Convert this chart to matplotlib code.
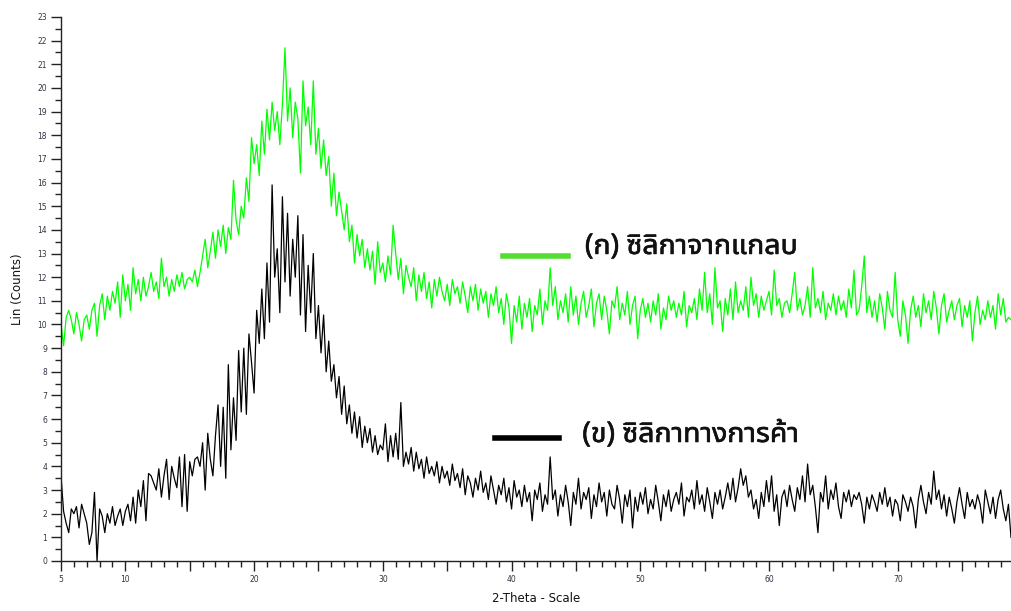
import numpy as np
import matplotlib
matplotlib.use("Agg")
import matplotlib.pyplot as plt
from matplotlib import font_manager
import matplotlib.patheffects as pe

# ---------------- data (0.2 deg step) ----------------
x_start = 5.0
x_step = 0.2

husk_counts = [
    10.0, 9.1, 10.3, 10.6, 10.2,  9.6, 10.5, 10.0, 9.3, 10.2,
    10.4, 9.8, 10.6, 10.9, 9.5,  10.8, 11.3, 10.2, 11.2, 10.6,
    11.4, 10.9, 11.8, 10.3, 12.1,  11.0, 11.7, 10.6, 12.4, 11.3,
    11.9, 11.0, 12.0, 11.2, 11.6,  12.2, 11.4, 11.8, 11.1, 12.8,
    11.6, 12.0, 11.2, 11.9, 11.4,  12.1, 11.6, 12.2, 11.5, 11.9,
    12.0, 11.8, 12.3, 11.6, 12.2,  12.9, 13.6, 12.4, 13.1, 13.9,
    12.8, 14.0, 13.3, 14.2, 13.0,  14.1, 13.6, 16.1, 14.4, 13.8,
    15.0, 14.5, 16.2, 15.2, 17.9,  16.8, 17.6, 16.3, 18.6, 17.2,
    19.1, 17.8, 19.4, 18.2, 19.0,  17.6, 19.3, 21.7, 18.6, 20.0,
    17.9, 19.4, 18.7, 16.4, 20.3,  18.4, 19.2, 17.6, 20.3, 17.2,
    18.3, 16.6, 17.8, 16.3, 17.1,  15.0, 16.4, 14.6, 15.6, 14.8,
    14.0, 15.1, 13.5, 14.2, 12.6,  13.8, 12.9, 13.6, 12.4, 13.2,
    12.3, 13.1, 11.7, 13.5, 12.2,  12.6, 11.8, 12.9, 12.1, 14.2,
    13.0, 11.9, 12.8, 11.3, 12.5,  12.0, 11.6, 12.4, 11.0, 12.1,
    11.4, 12.2, 11.1, 11.8, 10.7,  11.9, 11.2, 12.0, 11.4, 11.0,
    11.7, 10.8, 11.9, 11.3, 11.6,  10.9, 11.8, 11.2, 10.5, 11.6,
    11.0, 11.7, 10.6, 11.5, 10.9,  11.4, 10.3, 11.3, 10.8, 11.6,
    10.5, 11.1, 10.0, 11.3, 10.7,  9.2, 10.8, 10.1, 11.2, 9.8,
    10.9, 10.3, 11.1, 9.7, 10.8,  10.4, 11.5, 10.0, 11.0, 10.6,
    12.4, 10.8, 11.6, 10.2, 11.0,  10.5, 11.3, 10.1, 11.6, 10.4,
    11.2, 10.0, 10.9, 11.4, 10.3,  10.8, 11.5, 9.9, 10.9, 11.3,
    10.2, 11.2, 10.6, 9.6, 11.0,  10.7, 11.6, 10.2, 10.9, 10.4,
    11.4, 10.0, 10.8, 11.2, 9.4,  10.6, 11.1, 10.3, 10.9, 10.1,
    11.0, 10.4, 11.3, 9.8, 10.7,  10.2, 11.2, 10.6, 11.0, 10.3,
    10.9, 10.4, 11.4, 9.9, 10.8,  10.5, 11.1, 10.2, 11.5, 10.6,
    12.2, 10.5, 11.3, 10.0, 12.4,  10.7, 11.0, 9.7, 11.1, 10.4,
    11.5, 10.2, 11.8, 10.5, 11.0,  10.6, 11.6, 10.3, 12.0, 10.8,
    11.3, 10.3, 11.2, 10.6, 11.0,  11.4, 10.4, 12.3, 10.8, 11.1,
    10.3, 10.9, 11.0, 10.5, 11.3,  12.2, 10.6, 11.1, 10.4, 10.8,
    11.6, 10.3, 12.4, 10.7, 11.1,  10.5, 11.4, 10.2, 10.9, 10.6,
    11.3, 10.4, 11.2, 10.6, 11.0,  10.3, 11.5, 10.7, 12.3, 10.4,
    10.6, 11.6, 12.9, 10.5, 11.2,  10.3, 11.0, 10.1, 11.3, 10.7,
    9.8, 11.4, 10.6, 10.3, 12.2,  10.2, 9.5, 11.0, 10.4, 9.2,
    10.6, 11.2, 10.3, 10.8, 9.9,  11.3, 10.5, 11.0, 10.2, 11.4,
    10.7, 9.6, 10.8, 11.3, 10.1,  10.6, 11.0, 10.2, 10.8, 11.1,
    9.9, 10.8, 10.3, 11.0, 9.3,  10.5, 11.2, 10.0, 10.6, 10.2,
    11.0, 10.3, 10.8, 9.8, 11.3,  10.4, 11.1, 10.1, 10.3, 10.2,
]

commercial_counts = [
    3.6, 2.1, 1.6, 1.2, 2.2,  2.0, 2.3, 1.4, 2.4, 2.0,
    1.6, 0.7, 1.2, 2.9, 0.0,  2.2, 1.9, 1.2, 2.0, 1.6,
    2.3, 1.5, 1.9, 2.2, 1.5,  2.1, 2.4, 1.7, 2.7, 1.6,
    3.0, 2.3, 3.4, 1.7, 3.7,  3.6, 3.3, 3.0, 3.9, 2.7,
    3.6, 4.3, 2.6, 4.0, 3.5,  3.1, 4.4, 2.3, 4.5, 2.1,
    4.2, 3.6, 4.3, 4.4, 4.0,  5.0, 3.0, 5.4, 4.3, 3.6,
    5.3, 6.6, 4.0, 6.5, 3.5,  8.3, 4.7, 6.9, 5.1, 8.9,
    6.3, 9.0, 6.2, 9.6, 8.4,  7.1, 10.6, 9.2, 11.5, 9.4,
    12.6, 10.1, 15.9, 12.0, 13.2,  10.5, 15.4, 11.8, 14.7, 11.2,
    13.6, 12.0, 14.6, 10.4, 13.8,  9.7, 12.5, 10.5, 13.0, 9.4,
    10.8, 8.8, 10.4, 8.0, 9.3,  7.6, 8.3, 6.9, 7.8, 6.2,
    7.4, 5.8, 6.6, 5.4, 6.3,  5.2, 6.1, 4.8, 5.7, 5.0,
    5.6, 4.6, 5.3, 4.5, 4.9,  4.7, 5.8, 4.2, 5.3, 4.4,
    5.4, 4.3, 6.7, 4.0, 4.6,  4.1, 4.8, 3.8, 4.6, 3.9,
    4.3, 3.5, 4.4, 3.7, 4.0,  3.6, 4.2, 3.3, 4.0, 3.5,
    3.8, 3.2, 4.1, 3.4, 3.7,  3.1, 3.9, 2.8, 3.6, 3.3,
    2.7, 3.5, 3.0, 3.8, 2.9,  3.3, 2.6, 3.6, 3.0, 2.4,
    3.2, 2.8, 3.5, 2.5, 3.1,  2.2, 3.4, 2.7, 3.0, 2.3,
    3.2, 2.5, 2.9, 1.7, 3.0,  2.6, 3.3, 2.1, 2.8, 2.4,
    4.4, 2.6, 3.0, 1.9, 2.8,  2.3, 3.2, 2.5, 1.5, 2.9,
    2.4, 3.5, 2.2, 2.9, 2.6,  3.1, 1.8, 2.8, 2.3, 3.3,
    2.5, 2.9, 1.9, 3.0, 2.4,  2.2, 3.2, 2.6, 1.6, 2.8,
    2.3, 3.0, 1.4, 2.7, 2.1,  2.9, 2.4, 3.1, 2.0, 2.6,
    2.2, 3.2, 2.5, 1.7, 2.8,  2.3, 3.0, 2.1, 2.6, 2.9,
    2.4, 3.3, 1.9, 2.7, 2.5,  3.0, 2.2, 3.4, 2.4, 2.8,
    2.1, 3.1, 2.5, 1.8, 2.9,  2.4, 3.0, 2.2, 2.7, 3.3,
    2.6, 3.5, 2.5, 3.1, 3.9,  3.2, 3.6, 2.7, 3.0, 2.2,
    2.6, 1.8, 2.9, 2.3, 3.4,  2.5, 3.6, 2.1, 2.8, 1.5,
    2.7, 3.0, 2.3, 3.2, 2.6,  2.1, 3.1, 2.6, 3.6, 2.5,
    4.1, 2.8, 3.2, 2.3, 1.2,  2.9, 2.5, 3.6, 2.2, 3.0,
    2.6, 3.3, 2.3, 1.8, 2.9,  2.5, 3.0, 2.3, 2.8, 2.6,
    2.9, 2.4, 1.6, 2.7, 2.2,  2.8, 2.5, 2.1, 2.9, 2.4,
    3.1, 2.3, 2.7, 1.9, 2.6,  2.4, 1.7, 2.8, 2.5, 2.1,
    2.7, 2.3, 1.4, 2.6, 3.2,  2.5, 2.0, 2.9, 2.4, 3.8,
    2.6, 3.0, 2.2, 2.8, 1.9,  2.7, 2.2, 1.6, 2.5, 3.1,
    2.4, 1.8, 2.9, 2.3, 2.6,  2.2, 2.8, 2.4, 1.6, 3.0,
    2.5, 2.0, 2.7, 1.8, 2.6,  3.0, 2.2, 1.7, 2.4, 1.0,
]

series_labels = ["(ก) ซิลิกาจากแกลบ", "(ข) ซิลิกาทางการค้า"]
x_tick_values = [5, 10, 15, 20, 25, 30, 35, 40, 45, 50, 55, 60, 65, 70, 75]
x_tick_labels = ["5", "10", "", "20", "", "30", "", "40", "", "50", "", "60", "", "70", ""]
y_tick_values = list(range(0, 24))
x_label = "2-Theta - Scale"
y_label = "Lin (Counts)"


# ---------------- find a font with Thai glyphs (prefer loopless) ----------------
def find_thai_font():
    try:
        from fontTools.ttLib import TTFont
    except Exception:
        return None
    found = []
    for fe in font_manager.fontManager.ttflist:
        try:
            f = TTFont(fe.fname, fontNumber=0, lazy=True)
            cmap = f.getBestCmap()
            if cmap and 0x0E01 in cmap and 0x0E34 in cmap:
                found.append(fe.name)
        except Exception:
            continue
    if not found:
        return None
    prefs = ["Noto Sans Thai UI", "Noto Sans Thai", "Leelawadee UI", "Leelawadee",
             "Sarabun", "Prompt", "Kanit", "IBM Plex Sans Thai", "Tahoma",
             "Arial Unicode MS", "FreeSans", "Umpush", "Loma"]
    for p in prefs:
        for n in found:
            if n == p:
                return n
    for n in found:
        if "looped" not in n.lower():
            return n
    return found[0]


thai_family = find_thai_font()
label_families = ["Noto Sans"] + ([thai_family] if thai_family else []) + ["DejaVu Sans"]

# ---------------- plot ----------------
fig = plt.figure(figsize=(10.11, 6.11), dpi=100)
ax = fig.add_axes([61 / 1011, 1 - 561 / 611, 1 - 61 / 1011, (561 - 17) / 611])

x_husk = x_start + x_step * np.arange(len(husk_counts))
x_comm = x_start + x_step * np.arange(len(commercial_counts))

ax.plot(x_husk, husk_counts, color="#00FF00", lw=0.9)
ax.plot(x_comm, commercial_counts, color="#000000", lw=0.9)

ax.set_xlim(5, 78.8)
ax.set_ylim(0, 23)

for s in ["top", "right"]:
    ax.spines[s].set_visible(False)
for s in ["left", "bottom"]:
    ax.spines[s].set_linewidth(1.0)
    ax.spines[s].set_color("#222222")

ax.set_xticks(x_tick_values)
ax.set_xticklabels(x_tick_labels)
ax.set_xticks(np.arange(5, 79, 1), minor=True)
ax.set_yticks(y_tick_values)
ax.set_yticklabels([str(v) for v in y_tick_values])
ax.set_yticks(np.arange(0.5, 23, 1), minor=True)

ax.tick_params(axis="both", which="major", direction="out", length=7, width=1.0,
               labelsize=5.5, labelcolor="#333344", color="#222222", pad=3)
ax.tick_params(axis="both", which="minor", direction="out", length=4.5, width=1.0,
               color="#222222")

ax.set_xlabel(x_label, fontsize=8.5, labelpad=6, color="#111111")
ax.set_ylabel(y_label, fontsize=8.5, labelpad=10, color="#111111")

# legend-like annotations
ax.plot([39.3, 44.4], [12.9, 12.9], color="#55DD33", lw=4)
ax.plot([38.7, 43.7], [5.2, 5.2], color="#000000", lw=4)
bold_fx = [pe.withStroke(linewidth=0.45, foreground="#111111")]
ax.text(45.7, 13.3, series_labels[0], fontsize=20.5, fontweight="normal",
        family=label_families, va="center", ha="left", color="#111111",
        path_effects=bold_fx)
ax.text(45.5, 5.35, series_labels[1], fontsize=20.5, fontweight="normal",
        family=label_families, va="center", ha="left", color="#111111",
        path_effects=bold_fx)

fig.savefig("out.png", dpi=100)
